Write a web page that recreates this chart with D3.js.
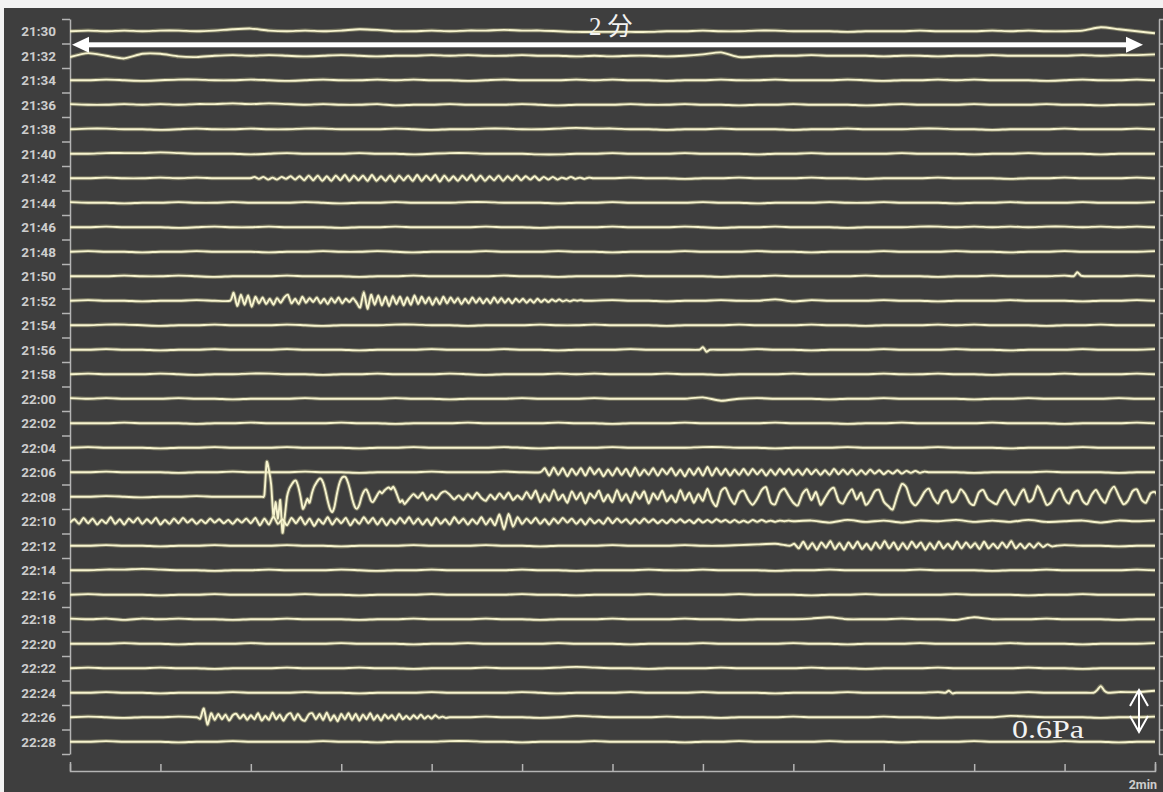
<!DOCTYPE html>
<html>
<head>
<meta charset="utf-8">
<script src="https://cdn.jsdelivr.net/npm/d3@7"></script>
<style>
  html, body { margin: 0; padding: 0; background: #ffffff; }
  svg { display: block; }
</style>
</head>
<body>
<svg id="chart" width="1163" height="792"></svg>
<script>
//////////////////////////////////////////////////////////////////
// Data: one trace per 2-minute row, values in hundredths of Pa
//////////////////////////////////////////////////////////////////
const rowLabels = [
  "21:30", "21:32", "21:34", "21:36", "21:38", "21:40", "21:42", "21:44",
  "21:46", "21:48", "21:50", "21:52", "21:54", "21:56", "21:58", "22:00",
  "22:02", "22:04", "22:06", "22:08", "22:10", "22:12", "22:14", "22:16",
  "22:18", "22:20", "22:22", "22:24", "22:26", "22:28"
];
const xTickSeconds = [0, 10, 20, 30, 40, 50, 60, 70, 80, 90, 100, 110, 120];
const rowSeconds = 120;
const scaleBarPa = 0.6;

// slow drift of each row, sampled every 2 s (0 .. 120 s)
const trends = [
  "0 1 0 1 0 1 1 0 1 3 4 1 0 1 0 1 3 2 0 0 1 0 1 1 2 1 1 0 -1 -1 -1 -1 -1 0 0 1 0 0 1 1 0 0 0 -1 0 0 0 1 0 0 0 1 0 1 0 0 1 6 3 0 -3",
  "-2 4 0 -4 3 3 -1 -2 0 1 0 1 0 -1 0 1 0 -1 0 0 1 0 1 0 0 1 0 0 -1 0 -1 0 0 -1 0 2 5 -2 -1 0 0 1 0 0 0 -1 0 0 -1 0 0 1 0 0 0 0 1 0 1 1 2",
  "0 0 1 0 -1 0 1 1 0 0 1 0 -1 0 1 0 0 1 0 1 0 0 -1 0 1 0 0 0 1 0 1 0 0 -1 0 0 1 0 0 1 0 0 0 1 0 -1 0 0 1 0 1 0 0 0 -1 0 1 0 0 1 0",
  "1 0 0 1 0 1 0 1 1 2 1 2 1 0 1 0 0 1 -1 0 0 1 0 0 0 1 0 -1 0 0 0 1 0 0 1 0 0 -1 0 0 1 0 0 0 -1 0 1 0 0 0 1 0 0 0 1 0 0 -1 0 0 1",
  "0 1 1 0 0 -1 0 1 0 0 1 0 0 1 1 0 0 0 1 0 -1 0 0 1 1 0 0 1 2 1 1 0 0 -1 0 0 1 0 0 0 -1 0 0 1 0 0 0 1 1 0 0 -1 0 0 0 1 0 0 0 1 0",
  "0 0 1 1 1 2 1 0 0 0 -1 0 1 0 0 0 1 0 0 -1 0 1 1 0 0 0 -1 -1 0 0 1 0 0 0 1 0 0 0 -1 0 0 1 0 0 0 0 1 0 0 0 -1 0 0 1 0 0 0 -1 0 0 0",
  "0 0 1 0 0 1 0 1 0 0 1 0 0 0 0 0 0 0 0 0 0 0 0 0 0 0 0 0 0 0 0 1 0 0 -1 0 0 1 0 0 0 1 0 0 -1 0 0 0 1 0 0 0 -1 0 0 1 0 0 0 1 0",
  "1 0 0 -1 0 0 1 0 0 1 0 0 0 1 0 -1 0 0 1 0 0 0 1 1 0 0 0 -1 0 0 1 0 0 0 0 1 0 0 -1 0 0 0 1 0 0 1 0 0 0 -1 0 0 1 0 0 0 1 0 0 0 1",
  "0 0 1 0 0 0 -1 0 1 0 0 1 0 0 0 -1 0 0 1 0 0 0 0 1 0 0 -1 0 0 0 1 0 0 0 1 0 -1 0 0 1 0 0 0 -1 0 0 0 1 1 0 1 0 1 0 1 1 0 1 0 1 0",
  "0 1 0 0 -1 0 0 1 0 0 0 -1 0 0 1 0 0 1 0 -1 0 0 0 1 0 0 0 1 0 0 -1 0 0 0 1 0 0 0 1 0 0 -1 0 0 0 1 0 0 0 1 0 0 -1 0 0 1 0 0 0 0 1",
  "0 0 0 1 0 0 1 0 -1 0 0 0 1 0 0 0 -1 0 0 1 0 0 0 0 1 0 0 -1 0 0 0 1 0 0 0 0 -1 0 0 1 0 0 0 0 1 0 0 0 -1 0 0 1 0 0 0 1 0 0 0 1 0",
  "0 1 0 0 -1 0 0 1 0 0 0 0 0 0 0 0 0 0 0 0 0 0 0 0 0 0 0 0 0 0 1 0 0 -1 0 0 1 0 0 2 -1 1 0 0 0 1 0 0 -1 0 0 0 1 0 0 0 -1 0 0 1 0",
  "0 0 1 1 0 -1 0 0 1 0 0 0 1 0 -1 0 0 0 1 1 0 0 -1 0 0 0 1 0 0 1 0 0 0 -1 0 0 0 1 0 0 0 1 0 0 -1 0 0 0 1 0 1 0 0 0 -1 0 0 1 0 0 0",
  "0 0 1 0 0 -1 0 0 1 0 0 0 1 0 0 0 -1 0 0 0 1 0 0 0 1 0 0 -1 0 0 0 1 0 0 0 0 0 0 1 0 0 -1 0 0 0 1 0 0 0 1 0 0 -1 0 0 0 1 0 0 0 1",
  "0 1 0 0 0 1 0 -1 0 0 1 1 0 0 -1 0 0 1 0 0 0 1 0 -1 0 0 0 1 0 1 0 0 0 1 0 0 -1 0 0 0 1 0 0 0 0 1 0 0 1 0 0 -1 0 0 0 1 0 0 0 1 0",
  "1 0 1 0 0 0 1 0 0 -1 0 0 0 1 0 0 0 0 1 0 0 -1 0 0 0 1 0 0 0 1 0 0 0 0 0 2 -3 0 1 0 0 0 -1 0 0 1 0 0 0 0 -1 0 0 1 0 0 0 0 1 0 0",
  "0 0 0 1 0 0 0 -1 0 0 1 0 0 0 0 1 0 0 -1 0 0 0 1 0 0 0 0 1 0 0 -1 0 0 0 1 0 0 0 0 1 0 0 0 -1 0 0 1 0 0 0 0 1 0 0 0 -1 0 0 0 1 0",
  "0 1 0 0 0 -1 0 0 1 0 0 0 1 0 0 0 -1 0 0 1 0 0 0 0 1 0 -1 0 0 0 1 0 0 0 0 1 1 0 0 -1 0 0 0 1 0 0 0 0 1 0 0 0 -1 0 0 0 1 0 0 0 0",
  "0 0 1 0 0 0 -1 0 0 1 0 0 0 1 0 0 -1 0 0 0 1 0 0 0 1 0 0 0 0 0 0 0 0 0 0 0 0 0 0 0 0 0 0 0 0 0 0 1 0 0 -1 0 0 0 1 0 0 0 -1 0 0",
  "0 0 1 0 -1 0 0 1 0 0 0 0 0 0 0 0 0 0 0 0 0 0 0 0 0 0 0 0 0 0 0 0 0 0 0 0 0 0 0 0 0 0 0 0 0 0 0 0 0 0 0 0 0 0 0 0 0 0 0 0 0",
  "0 0 0 0 0 0 0 0 0 0 0 0 0 0 0 0 0 0 0 0 0 0 0 0 0 0 0 0 0 0 0 0 0 0 0 0 0 0 0 0 0 1 -2 2 -1 1 -2 1 0 2 -1 1 -1 2 -1 0 1 -2 1 0 1",
  "0 0 1 0 0 -1 0 0 1 0 0 0 1 0 0 -1 0 0 0 1 0 0 0 1 0 0 -1 0 0 0 1 0 0 0 1 0 0 1 2 3 1 0 0 0 0 0 0 0 0 0 0 0 0 0 0 1 0 0 -1 0 0",
  "0 0 1 1 2 1 0 0 -1 0 0 1 0 0 0 1 0 -1 0 0 1 0 0 0 0 1 0 0 -1 0 0 0 1 0 0 1 0 0 0 -1 0 0 1 0 0 0 0 1 0 0 0 -1 0 0 1 0 0 0 0 1 0",
  "0 1 0 0 0 -1 0 0 1 0 0 0 0 1 0 0 -1 0 0 0 1 0 0 0 0 1 0 0 -1 0 0 0 1 0 0 0 0 1 0 0 0 -1 0 0 1 0 0 0 0 1 0 0 0 -1 0 0 1 0 0 0 0",
  "1 0 1 -1 1 0 1 0 0 -1 0 0 1 0 0 0 -1 0 0 1 0 0 0 1 0 0 -1 0 0 0 1 0 0 0 1 0 0 -1 0 0 0 1 3 0 0 0 1 0 0 -1 3 0 0 0 1 0 0 0 -1 0 0",
  "0 0 0 1 0 0 -1 0 0 0 1 0 0 0 0 1 0 0 0 -1 0 0 1 0 0 0 0 1 0 0 0 -1 0 0 0 1 0 0 0 0 1 0 0 -1 0 0 0 1 0 0 0 0 1 0 0 0 -1 0 0 0 1",
  "0 1 0 0 0 1 0 0 -1 0 0 0 1 0 0 0 1 0 0 -1 0 0 0 1 0 0 0 1 2 1 0 0 -1 0 0 0 1 0 0 0 0 1 0 0 -1 0 0 0 1 0 0 0 0 1 0 0 -1 0 0 0 0",
  "0 0 1 0 0 -1 0 0 0 1 0 0 0 1 0 0 -1 0 0 0 1 0 0 0 0 1 0 -1 0 0 0 1 0 0 0 1 0 0 0 -1 0 0 0 1 0 0 0 0 1 0 0 0 0 1 0 0 0 0 1 1 3",
  "0 1 0 -1 0 0 1 0 0 0 0 0 0 0 0 0 0 0 0 0 0 0 0 1 0 0 -1 0 2 1 0 0 0 1 0 0 -1 0 0 0 1 0 0 0 0 1 0 0 -1 0 0 0 2 1 0 0 0 -1 0 0 1",
  "0 0 1 0 0 0 -1 0 0 1 0 0 0 0 1 0 0 -1 0 0 0 1 1 0 0 -1 0 0 0 1 0 0 0 0 -1 0 0 1 0 0 0 0 1 0 0 0 -1 0 0 0 1 0 0 0 0 1 0 0 -1 0 0"
];

// oscillation bursts (hundredths of Pa)
const burst2142 = "0 2 -1 2 -2 1 -2 2 -1 3 -2 3 -3 4 -3 4 -4 3 -4 4 -3 5 -4 4 -3 4 -4 5 -4 3 -4 4 -5 4 -3 4 -4 5 -4 4 -3 5 -5 4 -4 3 -4 4 -3 5 -4 4 -4 3 -3 4 -4 3 -3 4 -3 3 -2 3 -3 2 -2 2 -2 1 -1 2 -1 1 -1 1 0 0";
const burst2152 = "0 12 -8 9 -6 8 -9 6 -4 5 -5 3 -6 4 -3 5 9 -4 3 -5 6 -3 4 -2 5 -4 3 -5 4 -3 5 -4 3 -2 4 -3 -10 13 -12 9 -6 8 -7 6 -8 7 -5 6 -7 5 -6 8 -5 6 -4 5 -6 4 -5 6 -4 5 -3 4 -5 3 -4 5 -3 4 -4 3 -4 5 -3 4 -3 3 -4 3 -2 3 -3 2 -3 3 -2 2 -2 2 -1 2 -1 1 -1 1 0 1 0 0 0";
const burst2206 = "0 6 -5 7 -4 6 -6 5 -4 6 -5 7 -3 5 -6 4 -5 6 -4 5 -6 7 -5 4 -4 6 -5 5 -3 6 -5 4 -6 5 -4 6 -5 8 -5 6 -4 5 -5 4 -4 5 -4 5 -3 4 -5 4 -4 5 -3 5 -4 4 -4 5 -3 4 -4 3 -4 5 -3 4 -3 4 -4 3 -3 4 -2 3 -3 2 -2 3 -2 2 -1 2 -1 1 0 0";
const burst2208a = "0 0 3 52 40 18 -30 -8 -33 -5 -54 -30 0 12 18 23 24 15 0 -18 -12 -3 -9 5 15 21 26 27 21 9 -6 -18 -23 -15 3 18 27 30 29 21 9 -5 -15 -18 -12 0 8 11 5 -5 -8 -3 3 8 5 9 12 14 11 15 9 0 -8 -5 -11";
const burst2208b =
  "-3 4 -2 6 -5 3 -4 5 8 3 -4 2 -5 4 -3 6 -2 -6 3 -4 5 -3 6 -5 2 -4 " +
  "7 -3 9 -8 4 -6 10 -5 3 -9 8 -4 6 -10 5 -2 9 -7 3 -8 10 -6 4 -9 7 -3 8 -10 5 -4 9 -7 2 -8 10 -5 6 -9 4 -6 " +
  "12 -6 -14 8 13 -2 -11 5 9 -4 -12 -3 10 14 -8 -11 6 12 1 -9 -13 4 11 -5 7 -12 -2 9 13 -6 -10 3 11 -4 6 -12 -5 8 10 -7 -14 -19 2 19 14 -6 -13 -5 7 12 -2 -10 5 9 -8 -3 11 4 -9 -12 6 10 -3 -8 -11 3 " +
  "10 -4 -12 2 11 -7 -3 16 4 -12 -8 6 12 -3 -10 5 9 -6 -11 3 10 -2 -9 7 15 1 -11 -6 8 11 -4 -9 5 7 -3";
const burst2210 =
  "-2 3 -4 5 -3 4 -5 2 -3 6 -4 3 -5 4 -2 5 -4 3 -3 5 -5 2 -4 4 -3 5 -2 3 -4 2 -3 4 -2 3 -3 2 -4 3 -2 4 -3 " +
  "5 -6 4 -5 7 -4 3 -6 5 -3 6 -5 4 -7 3 -4 6 -5 4 -3 5 -6 3 -4 6 -3 5 -5 4 -6 3 -4 5 -3 6 -4 4 -5 3 -6 5 -4 3 -5 6 -3 4 -5 3 -4 6 -5 4 -6 " +
  "10 -12 11 -8 6 -4 " +
  "4 -3 5 -4 3 -5 4 -3 5 -2 4 -4 3 -5 4 -3 2 -4 5 -3 4 -2 3 -4 3 -3 4 -2 3 -3 2 -3 3 -2 3 -2 2 -3 3 -2 2 -2 3 -1 2 -2 2 -2 1 -2 2 -1 2 -1 1 -1 1 0 1 0";
const burst2212 = "0 3 -4 6 -5 4 -6 5 -3 7 -5 4 -6 5 -4 6 -5 3 -6 5 -4 7 -4 5 -6 4 -5 6 -3 5 -6 4 -5 6 -4 3 -5 6 -4 5 -3 4 -5 6 -4 3 -4 5 -3 7 -4 3 -4 3 -3 4 -2 2 -1 0";
const burst2226 = "0 -2 13 -11 6 -4 5 -3 4 -5 3 5 -2 4 -4 3 -3 6 -5 2 -4 7 -3 4 -5 3 6 -4 5 -3 -5 4 6 -3 5 -4 7 -5 3 -6 5 -3 6 -4 5 -5 4 -3 6 -4 3 -5 4 -2 3 -4 5 -3 2 -3 3 -2 4 -2 2 -2 3 -1 1 -1 0";
const spike2150 = "0 6 1 0";
const spike2156 = "0 4 -3 0";
const spike2224a = "0 3 -1 0";
const spike2224b = "0 4 10 3 0";

// where each burst sits: row index, start time (s), sample step (s)
const bursts = [
  { row: 6,  start: 19.9,  step: 0.5,  values: burst2142 },
  { row: 11, start: 17.7,  step: 0.4,  values: burst2152 },
  { row: 18, start: 52.0,  step: 0.5,  values: burst2206 },
  { row: 19, start: 21.0,  step: 0.25, values: burst2208a },
  { row: 19, start: 37.5,  step: 0.5,  values: burst2208b },
  { row: 20, start: 0.0,   step: 0.5,  values: burst2210 },
  { row: 21, start: 79.6,  step: 0.5,  values: burst2212 },
  { row: 28, start: 14.0,  step: 0.4,  values: burst2226 },
  { row: 10, start: 111.0, step: 0.4,  values: spike2150 },
  { row: 13, start: 69.6,  step: 0.4,  values: spike2156 },
  { row: 27, start: 96.8,  step: 0.4,  values: spike2224a },
  { row: 27, start: 113.2, step: 0.4,  values: spike2224b }
];

const parse = s => s.trim().split(/\s+/).map(Number);

//////////////////////////////////////////////////////////////////
// Build the points of every row
//////////////////////////////////////////////////////////////////
const rows = trends.map((str, i) => {
  const tv = parse(str);
  const stepT = rowSeconds / (tv.length - 1);
  const own = bursts.filter(b => b.row === i).map(b => {
    const v = parse(b.values);
    return { start: b.start, end: b.start + b.step * (v.length - 1), pts: v.map((d, k) => [b.start + k * b.step, d / 100]) };
  });
  let pts = tv.map((d, k) => [k * stepT, d / 100])
    .filter(p => !own.some(b => p[0] >= b.start - 0.3 && p[0] <= b.end + 0.3));
  own.forEach(b => { pts = pts.concat(b.pts); });
  pts.sort((a, b) => a[0] - b[0]);
  return pts;
});

//////////////////////////////////////////////////////////////////
// Chart
//////////////////////////////////////////////////////////////////
const svg = d3.select("#chart");
const axisColor = "#b4b4b4";

// panel background (light strip top / left like the screenshot)
svg.append("rect").attr("x", 0).attr("y", 0).attr("width", 1163).attr("height", 792).attr("fill", "#f2f2f2");
svg.append("rect").attr("x", 4).attr("y", 8).attr("width", 1159).attr("height", 784).attr("fill", "#3e3e3e");

const x = d3.scaleLinear().domain([0, rowSeconds]).range([70, 1155]);
const yRow = d3.scaleLinear().domain([0, rowLabels.length]).range([19, 754]);
const yAmp = d3.scaleLinear().domain([0, scaleBarPa]).range([0, 40]);

svg.append("defs").append("clipPath").attr("id", "plotClip")
  .append("rect").attr("x", 70).attr("y", 0).attr("width", 1086).attr("height", 792);

// left axis: ticks on row boundaries
const gLeft = svg.append("g").attr("transform", "translate(70,0)")
  .call(d3.axisLeft(yRow).tickValues(d3.range(0, rowLabels.length + 1)).tickSize(8).tickSizeOuter(0).tickFormat(""));
// right axis
const gRight = svg.append("g").attr("transform", "translate(1159,0)")
  .call(d3.axisRight(yRow).tickValues(d3.range(0, rowLabels.length + 1)).tickSize(5).tickSizeOuter(0).tickFormat(""));
// bottom time axis (10 s ticks)
const gBottom = svg.append("g").attr("transform", "translate(0,771)")
  .call(d3.axisTop(x).tickValues(xTickSeconds).tickSize(7).tickSizeOuter(9).tickFormat(""));

[gLeft, gRight, gBottom].forEach(g => {
  g.selectAll("path, line").attr("stroke", axisColor).attr("stroke-width", 1.5);
});

// row labels
svg.append("g").selectAll("text")
  .data(rowLabels)
  .enter()
  .append("text")
  .attr("x", 56)
  .attr("y", (d, i) => yRow(i + 0.5))
  .attr("dy", "0.36em")
  .attr("text-anchor", "end")
  .style("font-family", "Roboto, 'DejaVu Sans', sans-serif")
  .style("font-weight", "700")
  .style("font-size", "13.5px")
  .style("fill", "#cdcdcd")
  .text(d => d);

svg.append("text")
  .attr("x", 1157).attr("y", 789)
  .attr("text-anchor", "end")
  .style("font-family", "Roboto, 'DejaVu Sans', sans-serif")
  .style("font-weight", "700")
  .style("font-size", "12.5px")
  .style("fill", "#cdcdcd")
  .text("2min");

// traces
const gTraces = svg.append("g").attr("clip-path", "url(#plotClip)");
rows.forEach((pts, i) => {
  const base = yRow(i + 0.5);
  const lineRow = d3.line()
    .x(d => x(d[0]))
    .y(d => base - yAmp(d[1]))
    .curve(d3.curveCardinal.tension(0.35));
  gTraces.append("path").attr("d", lineRow(pts))
    .attr("fill", "none").attr("stroke", "#cfcc96").attr("stroke-opacity", 0.4).attr("stroke-width", 4);
  gTraces.append("path").attr("d", lineRow(pts))
    .attr("fill", "none").attr("stroke", "#f7f4cf").attr("stroke-width", 1.9).attr("stroke-linejoin", "round");
});

//////////////////////////////////////////////////////////////////
// Annotations: 2-minute arrow and 0.6 Pa scale bar
//////////////////////////////////////////////////////////////////
const ya = 44.8;
const x0 = x(0) + 2, x1 = x(rowSeconds) - 12;
svg.append("rect").attr("x", x0 + 14).attr("y", ya - 2.5).attr("width", x1 - x0 - 28).attr("height", 5).attr("fill", "#ffffff");
svg.append("path").attr("d", `M${x0},${ya} L${x0 + 17},${ya - 8} L${x0 + 17},${ya + 8} Z`).attr("fill", "#ffffff");
svg.append("path").attr("d", `M${x1},${ya} L${x1 - 17},${ya - 8} L${x1 - 17},${ya + 8} Z`).attr("fill", "#ffffff");

svg.append("text")
  .attr("x", 589).attr("y", 35)
  .style("font-family", "'Liberation Serif', 'DejaVu Serif', 'Noto Sans CJK JP', serif")
  .style("font-size", "25px")
  .style("letter-spacing", "6px")
  .style("fill", "#f2f2f2")
  .text("2分");

// vertical scale bar, length from the amplitude scale
const xs = 1139, yTop = 690, yBot = yTop + yAmp(scaleBarPa) + 2;
svg.append("path")
  .attr("d", `M${xs},${yTop} L${xs},${yBot} M${xs - 9},${yTop + 16} L${xs},${yTop} L${xs + 9},${yTop + 16} M${xs - 9},${yBot - 16} L${xs},${yBot} L${xs + 9},${yBot - 16}`)
  .attr("fill", "none").attr("stroke", "#ffffff").attr("stroke-width", 2);

svg.append("text")
  .attr("x", 1012).attr("y", 738)
  .attr("textLength", 72).attr("lengthAdjust", "spacingAndGlyphs")
  .style("font-family", "'Liberation Serif', 'DejaVu Serif', serif")
  .style("font-size", "25px")
  .style("fill", "#f2f2f2")
  .text("0.6Pa");
</script>
</body>
</html>
